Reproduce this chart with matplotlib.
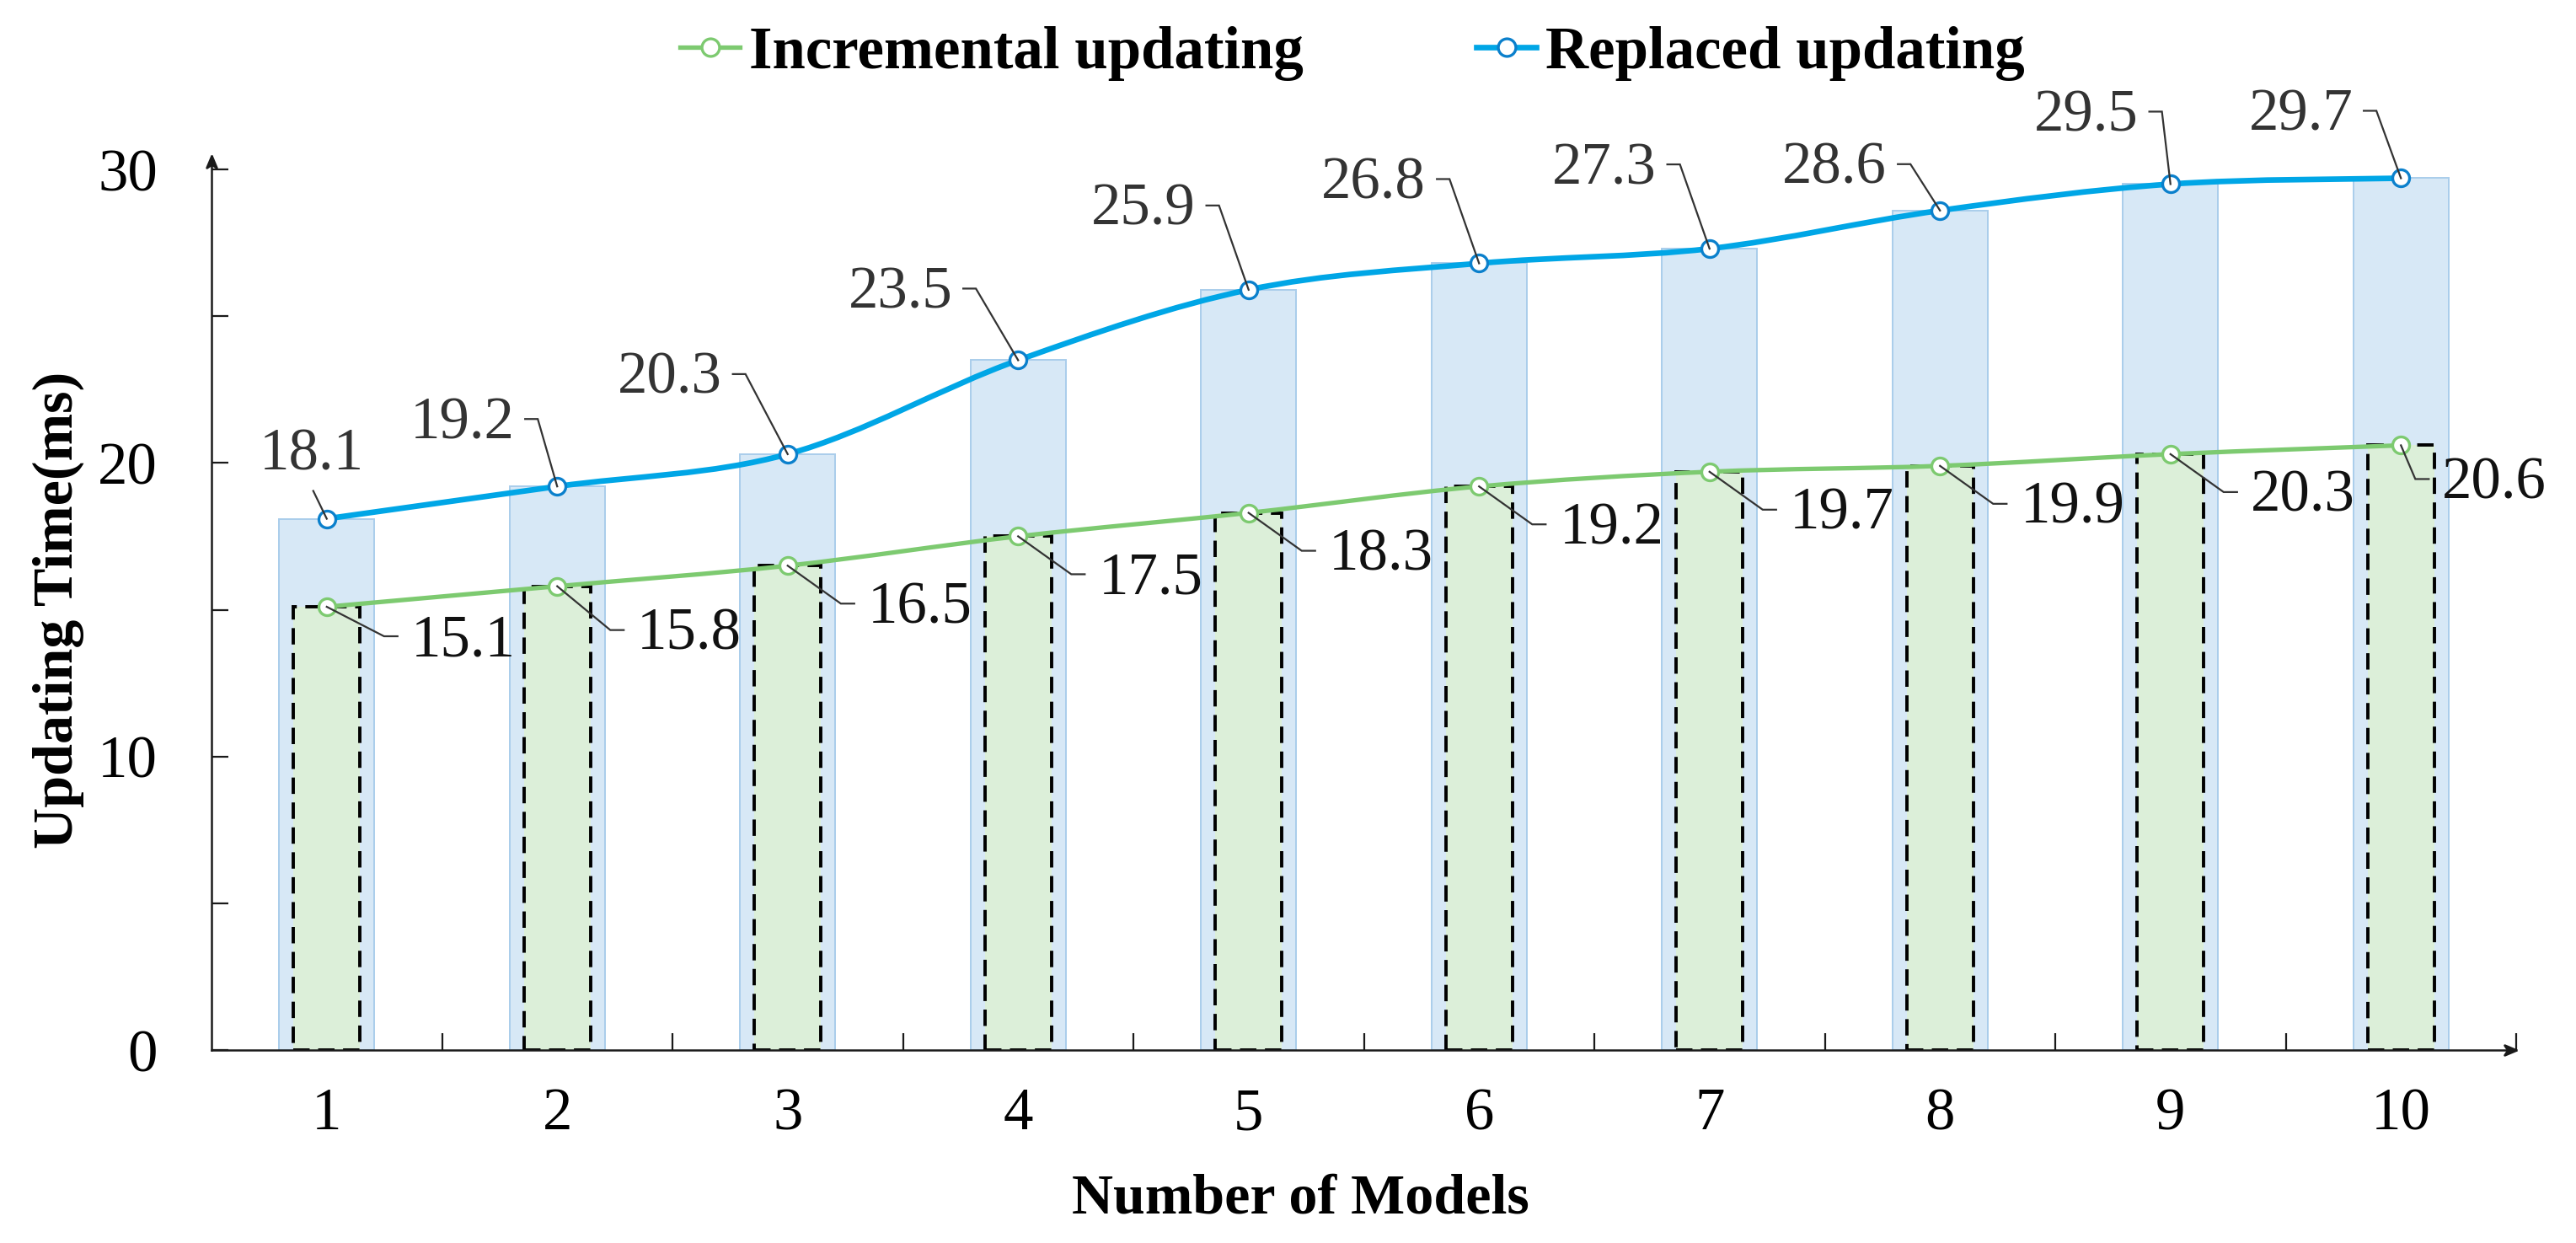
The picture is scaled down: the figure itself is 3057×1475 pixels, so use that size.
import numpy as np
import matplotlib
matplotlib.use("Agg")
import matplotlib.pyplot as plt
from matplotlib.path import Path
from matplotlib.patches import PathPatch
from matplotlib.lines import Line2D

# ---------------- data ----------------
models = [1, 2, 3, 4, 5, 6, 7, 8, 9, 10]
incremental = [15.1, 15.8, 16.5, 17.5, 18.3, 19.2, 19.7, 19.9, 20.3, 20.6]
replaced = [18.1, 19.2, 20.3, 23.5, 25.9, 26.8, 27.3, 28.6, 29.5, 29.7]
yticks_major = [0, 10, 20, 30]
yticks_minor = [5, 15, 25]
legend_labels = ["Incremental updating", "Replaced updating"]
xlabel = "Number of Models"
ylabel = "Updating Time(ms)"

# label placement (text centre offset from point, pixels; +dy = downwards)
rep_offsets = [(-18, -81), (-113, -80), (-140, -95), (-140, -85), (-125, -100),
               (-125, -100), (-125, -100), (-125, -55), (-100, -86), (-119, -80)]
inc_offsets = [(162, 35), (157, 52), (157, 45), (157, 45), (157, 45),
               (157, 45), (157, 45), (157, 45), (157, 45), (111, 40)]

# ---------------- style ----------------
DPI = 200
W, H = 3057, 1475
BLUE_LINE = "#00A6E6"
BLUE_MARK = "#0B80CC"
BLUE_FILL = "#D7E8F6"
BLUE_EDGE = "#A9CDEB"
GREEN_LINE = "#7DCA70"
GREEN_FILL = "#DCEFD9"
LABEL_COLOR = "#333333"
FONT = ["Liberation Serif", "DejaVu Serif"]

plt.rcParams["font.family"] = FONT

fig = plt.figure(figsize=(W / DPI, H / DPI), dpi=DPI)
ax = fig.add_axes([251 / W, 1 - 1246 / H, (2986 - 251) / W, (1246 - 185) / H])
ax.set_xlim(0.5, 10.5)
ax.set_ylim(0, 30.46)

x = np.array(models, dtype=float)

# bars
ax.bar(x, replaced, width=0.413, color=BLUE_FILL, edgecolor=BLUE_EDGE,
       linewidth=0.7, zorder=1)
ax.bar(x, incremental, width=0.29, color=GREEN_FILL, edgecolor="black",
       linewidth=1.4, linestyle=(0, (5, 2.6)), zorder=2)


def smooth_path(xs, ys):
    pts = np.column_stack([xs, ys])
    n = len(pts)
    verts = [pts[0]]
    codes = [Path.MOVETO]
    for i in range(n - 1):
        p0 = pts[i - 1] if i > 0 else pts[i]
        p1 = pts[i]
        p2 = pts[i + 1]
        p3 = pts[i + 2] if i + 2 < n else pts[i + 1]
        c1 = p1 + (p2 - p0) / 6.0
        c2 = p2 - (p3 - p1) / 6.0
        verts += [c1, c2, p2]
        codes += [Path.CURVE4] * 3
    return Path(np.array(verts), codes)


ax.add_patch(PathPatch(smooth_path(x, np.array(incremental)), fill=False,
                       edgecolor=GREEN_LINE, linewidth=1.9, zorder=4,
                       capstyle="round"))
ax.add_patch(PathPatch(smooth_path(x, np.array(replaced)), fill=False,
                       edgecolor=BLUE_LINE, linewidth=2.4, zorder=4,
                       capstyle="round"))
ax.plot(x, incremental, linestyle="none", marker="o", markersize=7.2,
        markerfacecolor="white", markeredgecolor=GREEN_LINE,
        markeredgewidth=1.2, zorder=6)
ax.plot(x, replaced, linestyle="none", marker="o", markersize=7.2,
        markerfacecolor="white", markeredgecolor=BLUE_MARK,
        markeredgewidth=1.2, zorder=6)

# axes styling
for s in ["top", "right"]:
    ax.spines[s].set_visible(False)
for s in ["left", "bottom"]:
    ax.spines[s].set_linewidth(0.9)
    ax.spines[s].set_color("#1a1a1a")

ax.set_yticks(yticks_major)
ax.set_yticks(yticks_minor, minor=True)
ax.set_yticklabels([str(v) for v in yticks_major])
ax.set_xticks(x)
ax.set_xticklabels([str(m) for m in models])
ax.set_xticks(np.arange(1.5, 11, 1.0), minor=True)
ax.tick_params(axis="y", which="both", direction="in", length=7.2, width=0.8,
               color="#1a1a1a", labelsize=25.5, pad=23)
ax.tick_params(axis="x", which="major", length=0, labelsize=25.5, pad=16)
ax.tick_params(axis="x", which="minor", direction="in", length=7.2,
               width=0.8, color="#1a1a1a")

# arrow heads
stealth = [(0, 0), (-0.42, -1.0), (0, -0.72), (0.42, -1.0), (0, 0)]
ax.plot([0.5], [30.46], marker=stealth, markersize=10, color="#1a1a1a",
        clip_on=False, zorder=7)
stealth_r = [(0, 0), (-1.0, 0.42), (-0.72, 0), (-1.0, -0.42), (0, 0)]
ax.plot([10.5], [0], marker=stealth_r, markersize=10, color="#1a1a1a",
        clip_on=False, zorder=7)

# axis labels
fig.text(69 / W, 1 - 724 / H, ylabel, rotation=90, ha="center", va="center",
         fontsize=24.5, fontweight="bold")
fig.text(1543 / W, 1 - 1440 / H, xlabel, ha="center", va="baseline",
         fontsize=24.5, fontweight="bold")

# legend
handles = [
    Line2D([], [], color=GREEN_LINE, linewidth=1.9, marker="o", markersize=7.5,
           markerfacecolor="white", markeredgecolor=GREEN_LINE,
           markeredgewidth=1.2),
    Line2D([], [], color=BLUE_LINE, linewidth=2.4, marker="o", markersize=7.5,
           markerfacecolor="white", markeredgecolor=BLUE_MARK,
           markeredgewidth=1.2),
]
fig.legend(handles, legend_labels, loc="center", bbox_to_anchor=(0.525, 0.957),
           ncol=2, frameon=False, handlelength=1.0, handletextpad=0.15,
           columnspacing=2.9, prop={"family": FONT, "weight": "bold",
                                    "size": 25.5})

# data labels with leader lines
fig.canvas.draw()
renderer = fig.canvas.get_renderer()
CAP = 23  # half digit height in px


def leader(pts, color=LABEL_COLOR):
    arr = np.array(pts)
    ln = Line2D(arr[:, 0], arr[:, 1], transform=None, color=color,
                linewidth=0.8, zorder=5, solid_joinstyle="miter")
    fig.add_artist(ln)


for xi, yi, (dx, dy) in zip(x, replaced, rep_offsets):
    px, py = ax.transData.transform((xi, yi))
    t = ax.annotate(f"{yi:.1f}", xy=(xi, yi), xytext=(dx, -dy - CAP),
                    textcoords="offset pixels", ha="center", va="baseline",
                    fontsize=25.5, color=LABEL_COLOR, zorder=8,
                    annotation_clip=False)
    bb = t.get_window_extent(renderer)
    cy = py - dy
    if abs(dx) < 40:
        leader([(px + dx + 2, bb.y0 - 10), (px, py)])
    else:
        leader([(bb.x1 + 13, cy), (bb.x1 + 28, cy), (px, py)])

for xi, yi, (dx, dy) in zip(x, incremental, inc_offsets):
    px, py = ax.transData.transform((xi, yi))
    t = ax.annotate(f"{yi:.1f}", xy=(xi, yi), xytext=(dx, -dy - CAP),
                    textcoords="offset pixels", ha="center", va="baseline",
                    fontsize=25.5, color="#111111", zorder=8,
                    annotation_clip=False)
    bb = t.get_window_extent(renderer)
    cy = py - dy
    leader([(px, py), (bb.x0 - 32, cy), (bb.x0 - 16, cy)])

fig.savefig("out.png", dpi=DPI, facecolor="white")
